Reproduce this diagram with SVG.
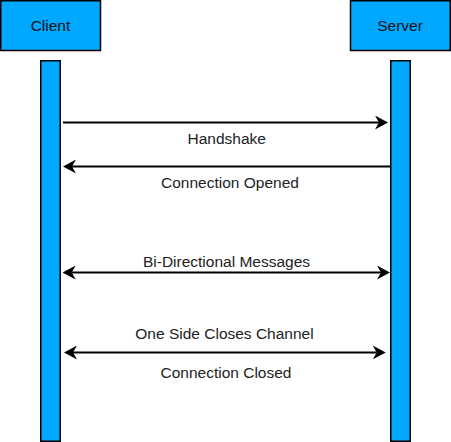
<svg xmlns="http://www.w3.org/2000/svg" width="451" height="442" viewBox="0 0 451 442">
<style>
.box{fill:#00A8FF;stroke:#000;stroke-width:1.5}
.life{fill:#00A8FF;stroke:#000;stroke-width:1.5}
.t{font-family:"Liberation Sans",Arial,sans-serif;font-size:15.5px;text-anchor:middle;fill:#111}
.lbl{font-family:"Liberation Sans",Arial,sans-serif;font-size:15.5px;text-anchor:middle;fill:#222}
.msg{stroke:#000;stroke-width:2;fill:none}
</style>
<defs>
<marker id="arr" markerUnits="userSpaceOnUse" viewBox="0 0 13 14" refX="4" refY="7" markerWidth="13" markerHeight="14" orient="auto-start-reverse">
<path d="M13 7 L0 0 L4 7 L0 14 Z" fill="#000"/>
</marker>
</defs>
<rect width="451" height="442" fill="#fff"/>
<g id="client">
<rect class="box" x="0.75" y="0.75" width="99.75" height="49.75"/>
<text class="t" x="50.5" y="30.5">Client</text>
</g>
<g id="server">
<rect class="box" x="350.5" y="0.75" width="99.75" height="49.75"/>
<text class="t" x="400" y="30.5">Server</text>
</g>
<g id="client-lifeline">
<rect class="life" x="40.75" y="60.75" width="19.5" height="380.5"/>
</g>
<g id="server-lifeline">
<rect class="life" x="390.75" y="60.75" width="19.5" height="380.5"/>
</g>
<g id="connectors">
<line class="msg" x1="63" y1="122.5" x2="379" y2="122.5" marker-end="url(#arr)"/>
<line class="msg" x1="390" y1="166.5" x2="72" y2="166.5" marker-end="url(#arr)"/>
<line class="msg" x1="71.7" y1="272.5" x2="381" y2="272.5" marker-start="url(#arr)" marker-end="url(#arr)"/>
<line class="msg" x1="73" y1="352.5" x2="376.7" y2="352.5" marker-start="url(#arr)" marker-end="url(#arr)"/>
</g>
<g id="labels">
<text class="lbl" x="226.7" y="144.3">Handshake</text>
<text class="lbl" x="230" y="188">Connection Opened</text>
<text class="lbl" x="226.5" y="266.7">Bi-Directional Messages</text>
<text class="lbl" x="224.5" y="339.3">One Side Closes Channel</text>
<text class="lbl" x="226" y="378.3">Connection Closed</text>
</g>
</svg>
